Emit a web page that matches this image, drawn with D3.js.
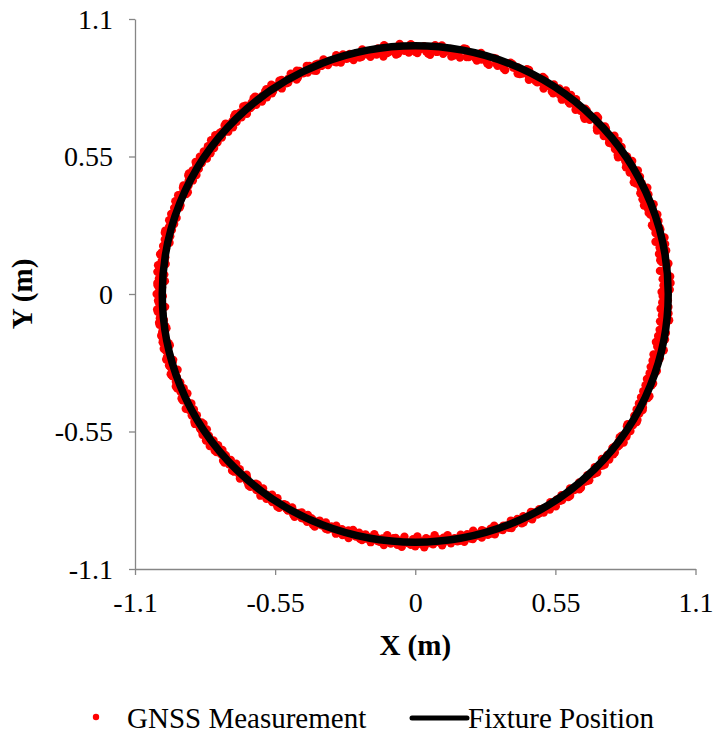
<!DOCTYPE html>
<html>
<head>
<meta charset="utf-8">
<script src="https://cdn.jsdelivr.net/npm/d3@7"></script>
<style>
  html, body { margin: 0; padding: 0; background: #fff; }
  svg { display: block; }
  text { font-family: "Liberation Serif", "Times New Roman", serif; fill: #000; }
</style>
</head>
<body>
<svg id="chart" width="715" height="734"></svg>
<script>
// ---- data ----
const xTicks = [-1.1, -0.55, 0, 0.55, 1.1];
const yTicks = [-1.1, -0.55, 0, 0.55, 1.1];
const xTickLabels = ["-1.1", "-0.55", "0", "0.55", "1.1"];
const yTickLabels = ["-1.1", "-0.55", "0", "0.55", "1.1"];
const seriesNames = ["GNSS Measurement", "Fixture Position"];

// Fixture position: circle centred at origin (m)
const fixtureCenter = [0, 0];
const fixtureRadius = 0.993;

// GNSS measurements: radial offset from the fixture circle (mm)
// lap 1 at headings 0°,1°,...,359°
const gnssOffsetMmLap1 = [
  -8,6,-18,2,10,-14,-3,8,-22,-1,
  7,-16,-5,11,-12,3,-20,5,-9,-17,
  -2,9,-13,-24,1,12,-10,-19,6,-6,
  -21,-1,11,-11,-4,-23,8,-8,-16,13,
  -3,-14,9,-18,0,14,-10,-22,4,-5,
  -12,10,-17,-2,13,-8,-25,6,-7,-15,
  9,-19,-4,-13,7,-22,-1,-9,5,-26,
  -6,-17,0,-28,-11,5,-20,-5,-24,8,
  -13,-27,-3,-16,7,-21,-9,-30,-1,-14,
  -24,6,-15,-7,-29,-2,-19,10,-11,-23,
  -4,-17,7,-22,-8,1,-14,-3,11,-10,
  -1,12,-9,5,-15,14,-5,8,-12,15,
  2,-10,13,-4,17,-13,9,1,-16,15,
  6,-7,16,-1,-11,12,4,-15,14,-3,
  9,17,-8,3,13,-12,6,15,-5,10,
  1,-11,16,5,-3,13,-9,18,4,-6,
  14,2,-8,17,6,-4,20,5,-7,15,
  8,21,0,-6,16,23,6,-9,19,11,
  22,2,14,-10,20,9,-1,18,-7,13,
  6,17,-8,12,3,19,-2,11,-12,16,
  5,-5,15,8,-14,14,2,18,-9,10,
  0,16,-13,8,14,-4,5,17,-11,11,
  3,-8,15,6,-16,12,1,16,-6,8,
  14,-11,4,17,-1,-13,11,3,15,-9,
  7,-2,16,-12,6,12,-5,17,2,-14,
  10,0,15,-9,7,18,-3,-13,13,4,
  15,-8,8,19,2,-12,13,20,-1,10,
  16,-6,21,5,11,-10,18,3,14,-4,
  9,17,-11,13,4,16,-5,10,18,1,
  12,0,17,7,-8,14,5,18,-3,10,
  16,4,12,20,-1,13,7,17,-6,11,
  19,5,14,-2,10,17,3,13,-7,16,
  7,15,-1,11,18,-4,8,14,-10,6,
  14,0,-9,10,2,-15,13,-3,-18,7,
  -5,-20,4,-13,-24,1,-11,8,-19,-6,
  -25,3,-15,-4,9,-21,-8,2,-23,-7
];
// lap 2 at headings 0.5°,1.5°,...,359.5°
const gnssOffsetMmLap2 = [
  -26,-6,10,-20,-11,-28,1,-17,-3,-23,
  -14,8,-27,-7,-19,2,-24,-10,9,-21,
  -18,-28,-4,5,-22,-12,0,-26,-15,11,
  -5,-23,-13,4,-27,-2,-18,12,-21,-11,
  -20,6,-25,-6,13,-16,-27,3,-14,-24,
  0,-19,11,-26,-15,5,-22,-9,-29,7,
  -20,-5,-27,8,-16,-24,-7,3,-30,-12,
  -25,1,-32,-11,-20,-28,-4,-22,7,-31,
  -18,-33,-6,-26,-15,5,-34,-21,-9,-29,
  -3,-27,-19,9,-32,-12,-23,-35,0,-20,
  -28,-8,-21,-2,-26,-14,6,-22,-16,-4,
  -15,-6,4,-19,9,-12,-7,14,-17,-1,
  -11,11,-18,5,-8,13,-14,0,16,-12,
  -6,12,-15,7,15,-10,-1,16,-13,6,
  -9,0,17,-11,-3,14,-12,4,18,-7,
  11,18,-9,1,15,-12,8,2,19,-6,
  4,17,9,-6,10,20,-4,14,7,2,
  16,-1,11,23,4,-5,15,20,1,8,
  -2,17,6,22,3,14,19,-4,10,18,
  14,-5,18,4,13,-7,15,2,19,0,
  10,17,-9,2,15,1,-11,9,5,-8,
  13,-10,9,-12,2,16,-8,6,13,-12,
  -6,14,-11,1,15,-10,8,-13,5,14,
  -9,9,-12,2,13,6,-13,15,-7,4,
  -12,11,-6,8,-14,-8,14,-12,2,10,
  -7,-16,-1,13,-11,-18,5,10,-12,-4,
  -19,6,-7,-22,10,-14,-4,-21,4,-12,
  -23,8,-15,-8,-25,5,-12,-20,-2,10,
  -14,-5,9,-19,-3,-13,12,-9,-16,6,
  -4,12,-12,-1,15,-8,1,-10,11,-4,
  1,18,-6,3,11,-4,17,2,9,19,
  -2,10,18,3,13,-5,7,16,4,-1,
  15,-4,9,0,-7,13,3,-8,10,16,
  -5,8,13,-12,-2,10,-17,-8,4,-22,
  -13,0,-24,-16,-3,-27,-10,-20,-29,4,
  -6,-23,-12,-26,-8,4,-28,-14,-1,-22
];
const gnssLapStartDeg = [0, 0.5];
const gnssAngleStepDeg = 1;

// ---- layout ----
const svg = d3.select("#chart");
const x = d3.scaleLinear().domain([-1.1, 1.1]).range([135, 695.5]);
const y = d3.scaleLinear().domain([-1.1, 1.1]).range([569, 19]);
const axisColor = "#868686";
const tickFont = 28;
const textFont = 29;

// GNSS points (polar -> x/y)
const gnss = [];
[gnssOffsetMmLap1, gnssOffsetMmLap2].forEach((lap, k) => {
  lap.forEach((mm, i) => {
    const a = (gnssLapStartDeg[k] + i * gnssAngleStepDeg) * Math.PI / 180;
    const r = fixtureRadius + mm / 1000;
    gnss.push({ x: fixtureCenter[0] + r * Math.cos(a), y: fixtureCenter[1] + r * Math.sin(a) });
  });
});

// Axes
const gx = svg.append("g").attr("transform", `translate(0,${y(-1.1)})`)
  .call(d3.axisBottom(x).tickValues(xTicks).tickFormat((d, i) => xTickLabels[i]).tickSize(6).tickSizeOuter(0));
const gy = svg.append("g").attr("transform", `translate(${x(-1.1)},0)`)
  .call(d3.axisLeft(y).tickValues(yTicks).tickFormat((d, i) => yTickLabels[i]).tickSize(6).tickSizeOuter(0));
[gx, gy].forEach(g => {
  g.attr("font-family", null);
  g.select(".domain").attr("stroke", axisColor).attr("stroke-width", 1.3);
  g.selectAll(".tick line").attr("stroke", axisColor).attr("stroke-width", 1.3);
  g.selectAll(".tick text").attr("font-family", "Liberation Serif").attr("font-size", tickFont).attr("fill", "#000");
});
gx.selectAll(".tick text").attr("y", 43).attr("dy", 0);
gy.selectAll(".tick text").attr("x", -22).attr("dy", "0.33em");

// GNSS dots
svg.append("g").selectAll("circle").data(gnss).join("circle")
  .attr("cx", d => x(d.x)).attr("cy", d => y(d.y))
  .attr("r", 4.2).attr("fill", "#ff0000");

// Fixture circle
svg.append("ellipse")
  .attr("cx", x(fixtureCenter[0])).attr("cy", y(fixtureCenter[1]))
  .attr("rx", x(fixtureRadius) - x(0)).attr("ry", y(0) - y(fixtureRadius))
  .attr("fill", "none").attr("stroke", "#000").attr("stroke-width", 7.5);

// Axis titles
svg.append("text").attr("x", x(0)).attr("y", 655).attr("text-anchor", "middle")
  .attr("font-size", textFont).attr("font-weight", "bold").text("X (m)");
svg.append("text").attr("transform", `translate(32,${y(0)}) rotate(-90)`).attr("text-anchor", "middle")
  .attr("font-size", textFont).attr("font-weight", "bold").text("Y (m)");

// Legend
const leg = svg.append("g");
leg.append("circle").attr("cx", 96).attr("cy", 717).attr("r", 3.2).attr("fill", "#ff0000");
leg.append("text").attr("x", 127).attr("y", 728).attr("font-size", textFont).text(seriesNames[0]);
leg.append("line").attr("x1", 412).attr("x2", 467).attr("y1", 718).attr("y2", 718)
  .attr("stroke", "#000").attr("stroke-width", 5).attr("stroke-linecap", "round");
leg.append("text").attr("x", 468).attr("y", 728).attr("font-size", textFont).text(seriesNames[1]);
</script>
</body>
</html>
